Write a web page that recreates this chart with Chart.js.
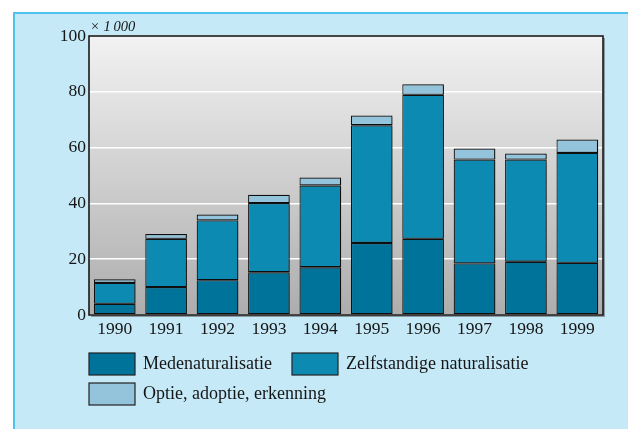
<!DOCTYPE html>
<html>
<head>
<meta charset="utf-8">
<script src="https://cdn.jsdelivr.net/npm/chart.js@4.4.1/dist/chart.umd.min.js"></script>
<style>
    html, body { margin: 0; padding: 0; background: #ffffff; }
    #wrap { position: relative; width: 628px; height: 429px; overflow: hidden; }
    #panel {
        position: absolute; left: 13px; top: 12px; width: 620px; height: 420px;
        background: #c6e9f8; border-left: 2px solid #4fc1ee; border-top: 2px solid #4fc1ee;
    }
    #chart { position: absolute; left: 0; top: 0; }
</style>
</head>
<body>
<div id="wrap">
    <div id="panel"></div>
    <canvas id="chart" width="628" height="429"></canvas>
</div>
<script>
// jaren
const years = ["1990", "1991", "1992", "1993", "1994", "1995", "1996", "1997", "1998", "1999"];

// aantallen x 1000
const mede = [4.0, 10.0, 12.5, 15.3, 17.1, 25.8, 27.3, 18.5, 19.1, 18.7];
const zelfstandig = [7.5, 17.3, 21.4, 24.8, 29.3, 42.2, 51.6, 37.2, 36.6, 39.4];
const optie = [1.3, 1.7, 2.1, 3.0, 2.9, 3.5, 3.8, 4.0, 2.2, 4.8];

const yTicks = [0, 20, 40, 60, 80, 100];

const seriesNames = ["Medenaturalisatie", "Zelfstandige naturalisatie", "Optie, adoptie, erkenning"];
const seriesColors = ["#00739b", "#0c8ab2", "#94c4dc"];

const serif = "'Liberation Serif', 'DejaVu Serif', serif";
const textColor = "#151515";

// achtergrond met verloop in het plotvlak
const plotBackground = {
    id: "plotBackground",
    beforeDraw(chart) {
        const { ctx, chartArea: a } = chart;
        const g = ctx.createLinearGradient(0, a.top, 0, a.bottom);
        g.addColorStop(0, "#f2f2f2");
        g.addColorStop(1, "#adadad");
        ctx.save();
        // schaduw van het kader
        ctx.fillStyle = "rgba(60,60,60,0.45)";
        ctx.fillRect(a.left + 2, a.top + 2, a.right - a.left, a.bottom - a.top);
        ctx.fillStyle = g;
        ctx.fillRect(a.left, a.top, a.right - a.left, a.bottom - a.top);
        ctx.restore();
    },
    beforeDatasetsDraw(chart) {
        const { ctx } = chart;
        ctx.save();
        ctx.shadowColor = "rgba(0,0,0,0.35)";
        ctx.shadowOffsetX = 2;
        ctx.shadowOffsetY = 1;
        ctx.shadowBlur = 2;
    },
    afterDatasetsDraw(chart) {
        const { ctx, chartArea: a } = chart;
        ctx.restore();
        ctx.save();
        ctx.strokeStyle = "#1a1a1a";
        ctx.lineWidth = 1.6;
        ctx.strokeRect(a.left, a.top, a.right - a.left, a.bottom - a.top);
        // eenheid
        ctx.fillStyle = textColor;
        ctx.font = "italic 14.5px " + serif;
        ctx.textBaseline = "alphabetic";
        ctx.fillText("× 1\u2009000", a.left + 1, a.top - 5);
        ctx.restore();
    }
};

// legenda onder de grafiek
const legendBoxes = {
    id: "legendBoxes",
    afterDraw(chart) {
        const { ctx } = chart;
        const spots = [[89, 353], [292, 353], [89, 383]];
        ctx.save();
        ctx.font = "18px " + serif;
        ctx.textBaseline = "middle";
        chart.data.datasets.forEach((ds, i) => {
            const [x, y] = spots[i];
            ctx.fillStyle = ds.backgroundColor;
            ctx.fillRect(x, y, 46, 22);
            ctx.strokeStyle = "#222";
            ctx.lineWidth = 1.2;
            ctx.strokeRect(x, y, 46, 22);
            ctx.fillStyle = textColor;
            ctx.fillText(ds.label, x + 54, y + 11);
        });
        ctx.restore();
    }
};

const datasets = [mede, zelfstandig, optie].map((values, i) => ({
    label: seriesNames[i],
    data: values,
    backgroundColor: seriesColors[i],
    borderColor: "#111",
    borderWidth: 1.2,
    borderSkipped: false,
    barPercentage: 0.81,
    categoryPercentage: 1.0
}));

new Chart(document.getElementById("chart"), {
    type: "bar",
    data: { labels: years, datasets },
    plugins: [plotBackground, legendBoxes],
    options: {
        responsive: false,
        animation: false,
        layout: { padding: { top: 36, right: 25, left: 0, bottom: 0 } },
        plugins: {
            legend: { display: false },
            tooltip: { enabled: false }
        },
        scales: {
            x: {
                stacked: true,
                grid: { display: false, drawTicks: false },
                border: { display: false },
                ticks: {
                    color: textColor,
                    font: { family: serif, size: 17.5 },
                    padding: 4,
                    maxRotation: 0
                },
                afterFit(scale) { scale.height = 114; }
            },
            y: {
                stacked: true,
                min: 0,
                max: 100,
                afterBuildTicks(scale) { scale.ticks = yTicks.map(v => ({ value: v })); },
                grid: { color: "#ffffff", lineWidth: 1.5, drawTicks: false },
                border: { display: false },
                ticks: {
                    color: textColor,
                    font: { family: serif, size: 17.5 },
                    padding: 3
                },
                afterFit(scale) { scale.width = 89; }
            }
        }
    }
});
</script>
</body>
</html>
